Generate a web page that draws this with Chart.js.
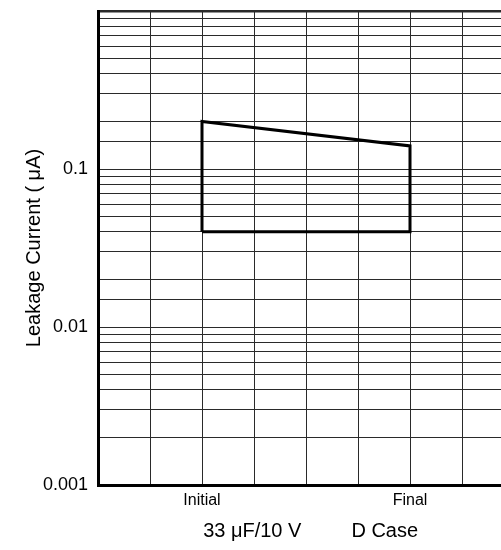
<!DOCTYPE html>
<html>
<head>
<meta charset="utf-8">
<script src="https://cdn.jsdelivr.net/npm/chart.js@4"></script>
<style>
  html, body { margin: 0; padding: 0; background: #fff; overflow: hidden; }
</style>
</head>
<body>
<canvas id="chart" width="501" height="550"></canvas>
<script>
const FONT = "'Liberation Sans', Arial, Helvetica, sans-serif";
const INK = "#000";
const GRID = "#2a2a2a";

// measurement stages and where they sit on the grid columns
const stages = ["Initial", "Final"];
const stageColumns = [2, 6];
// leakage current limits (uA)
const upperLimit = [0.2, 0.14];
const lowerLimit = [0.04, 0.04];
const yTickLabels = ["0.001", "0.01", "0.1"];
const yTitle = "Leakage Current ( μA)";
// leading spaces push the centred title a little to the right, as in the original
const xTitle = "    33 μF/10 V         D Case";

// closed outline of the band
const outline = [
  { x: stageColumns[0], y: lowerLimit[0] },
  { x: stageColumns[0], y: upperLimit[0] },
  { x: stageColumns[1], y: upperLimit[1] },
  { x: stageColumns[1], y: lowerLimit[1] },
  { x: stageColumns[0], y: lowerLimit[0] },
];

function isLabelled(v) {
  return yTickLabels.some((t) => Math.abs(parseFloat(t) - v) < 1e-9);
}

new Chart(document.getElementById("chart"), {
  type: "line",
  data: {
    datasets: [
      {
        data: outline,
        borderColor: INK,
        borderWidth: 3,
        borderJoinStyle: "miter",
        pointRadius: 0,
        tension: 0,
        fill: false,
      },
    ],
  },
  options: {
    responsive: false,
    animation: false,
    devicePixelRatio: 1,
    layout: { padding: { top: 11, right: 0, left: 0, bottom: 0 } },
    plugins: { legend: { display: false }, tooltip: { enabled: false } },
    scales: {
      x: {
        type: "linear",
        min: 0,
        max: 7.75,
        afterBuildTicks: (scale) => {
          scale.ticks = [0, 1, 2, 3, 4, 5, 6, 7].map((v) => ({ value: v }));
        },
        afterFit: (scale) => {
          scale.height = 65;
          scale.paddingLeft = 0;
          scale.paddingRight = 0;
        },
        border: { display: true, color: INK, width: 3 },
        grid: { color: GRID, lineWidth: 1, drawTicks: false },
        ticks: {
          padding: 6,
          maxRotation: 0,
          autoSkip: false,
          color: INK,
          font: { family: FONT, size: 16 },
          callback: (v) => {
            const i = stageColumns.indexOf(v);
            return i >= 0 ? stages[i] : "";
          },
        },
        title: {
          display: true,
          text: xTitle,
          color: INK,
          font: { family: FONT, size: 20 },
          padding: { top: 0, bottom: 7 },
        },
      },
      y: {
        type: "logarithmic",
        min: 0.001,
        max: 1,
        afterFit: (scale) => {
          scale.width = 98;
          scale.paddingTop = 0;
          scale.paddingBottom = 0;
        },
        border: { display: true, color: INK, width: 3 },
        grid: {
          color: GRID,
          drawTicks: false,
          lineWidth: (ctx) => (ctx.tick && ctx.tick.value === 1 ? 2.5 : 1),
        },
        ticks: {
          padding: 10,
          autoSkip: false,
          color: INK,
          font: { family: FONT, size: 18 },
          callback: (v) => (isLabelled(v) ? String(v) : ""),
        },
        title: {
          display: true,
          text: yTitle,
          color: INK,
          font: { family: FONT, size: 20 },
          padding: { top: 22, bottom: 0 },
        },
      },
    },
  },
});
</script>
</body>
</html>
